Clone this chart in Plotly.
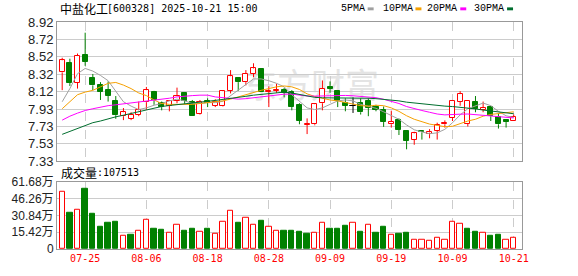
import plotly.graph_objects as go

# ---------------- data ----------------
opens = [8.345, 8.457, 8.227, 8.542, 8.282, 8.197, 8.142, 8.019, 7.845, 7.816,
         7.860, 8.004, 8.123, 7.993, 7.964, 8.019, 8.105, 8.012, 7.871, 8.023,
         7.964, 7.964, 8.134, 8.282, 8.234, 8.327, 8.383, 8.125, 8.134, 8.142,
         8.123, 7.975, 7.748, 7.753, 7.993, 8.179, 8.134, 8.001, 7.964, 8.001,
         8.019, 7.949, 7.919, 7.753, 7.797, 7.671, 7.578, 7.678, 7.641, 7.678,
         7.753, 7.823, 8.012, 7.760, 8.012, 7.919, 7.945, 7.838, 7.800, 7.790]
highs = [8.512, 8.501, 8.560, 8.798, 8.327, 8.234, 8.242, 8.075, 7.938, 7.890,
         8.012, 8.179, 8.134, 8.012, 8.030, 8.171, 8.112, 8.030, 8.030, 8.049,
         8.038, 8.142, 8.371, 8.290, 8.371, 8.449, 8.383, 8.186, 8.216, 8.168,
         8.142, 7.993, 7.820, 7.993, 8.253, 8.242, 8.142, 8.049, 8.060, 8.049,
         8.049, 7.975, 7.956, 7.908, 7.820, 7.686, 7.667, 7.678, 7.697, 7.771,
         7.797, 8.030, 8.131, 8.019, 8.075, 8.012, 7.964, 7.882, 7.800, 7.864]
lows = [8.142, 8.190, 8.160, 8.420, 8.142, 8.030, 8.012, 7.815, 7.800, 7.800,
        7.845, 7.919, 7.975, 7.912, 7.900, 7.993, 7.986, 7.845, 7.864, 7.949,
        7.949, 7.956, 8.105, 8.134, 8.197, 8.290, 8.123, 7.949, 8.112, 8.060,
        7.912, 7.753, 7.641, 7.741, 7.912, 8.112, 7.949, 7.901, 7.882, 7.864,
        7.845, 7.901, 7.723, 7.715, 7.630, 7.467, 7.519, 7.578, 7.593, 7.578,
        7.715, 7.790, 7.964, 7.727, 7.890, 7.890, 7.790, 7.704, 7.715, 7.790]
closes = [8.483, 8.223, 8.531, 8.468, 8.197, 8.123, 8.075, 7.856, 7.890, 7.860,
          7.912, 8.142, 8.030, 7.949, 8.019, 8.075, 8.023, 7.845, 8.012, 8.001,
          8.012, 8.130, 8.301, 8.234, 8.327, 8.390, 8.123, 8.135, 8.145, 8.112,
          7.949, 7.790, 7.750, 7.982, 8.160, 8.160, 8.023, 7.964, 7.964, 7.890,
          7.938, 7.919, 7.778, 7.782, 7.690, 7.567, 7.649, 7.660, 7.660, 7.741,
          7.771, 8.019, 8.097, 8.019, 7.927, 7.938, 7.845, 7.753, 7.778, 7.838]

ma5 = [8.01, 8.16, 8.33, 8.39, 8.36, 8.31, 8.25, 8.13, 8.01, 7.96,
       7.92, 7.94, 7.97, 7.99, 8.02, 8.04, 8.02, 7.99, 7.99, 8.0,
       8.0, 8.015, 8.08, 8.14, 8.21, 8.27, 8.27, 8.25, 8.22, 8.18,
       8.09, 8.02, 7.94, 7.92, 7.94, 7.98, 8.02, 8.03, 8.02, 7.98,
       7.955, 7.935, 7.895, 7.855, 7.81, 7.745, 7.69, 7.665, 7.645, 7.655,
       7.695, 7.77, 7.86, 7.93, 7.965, 7.995, 7.965, 7.9, 7.85, 7.83]
ma10 = [7.93, 8.01, 8.09, 8.12, 8.14, 8.18, 8.22, 8.23, 8.2, 8.16,
        8.11, 8.08, 8.03, 7.99, 7.98, 7.98, 7.98, 7.98, 7.99, 8.0,
        8.01, 8.02, 8.04, 8.065, 8.09, 8.12, 8.14, 8.16, 8.18, 8.19,
        8.18, 8.15, 8.1, 8.07, 8.05, 8.03, 8.02, 8.0, 7.985, 7.965,
        7.96, 7.97, 7.965, 7.94, 7.9, 7.85, 7.81, 7.78, 7.755, 7.74,
        7.725, 7.73, 7.76, 7.79, 7.81, 7.845, 7.865, 7.875, 7.885, 7.895]
ma20 = [7.80, 7.845, 7.88, 7.91, 7.93, 7.95, 7.965, 7.975, 7.985, 7.995,
        8.005, 8.02, 8.03, 8.04, 8.05, 8.065, 8.075, 8.08, 8.085, 8.085,
        8.065, 8.058, 8.048, 8.04, 8.045, 8.055, 8.06, 8.072, 8.084, 8.096,
        8.097, 8.085, 8.075, 8.074, 8.077, 8.079, 8.079, 8.082, 8.078, 8.073,
        8.066, 8.056, 8.038, 8.018, 7.99, 7.955, 7.93, 7.91, 7.89, 7.87,
        7.86, 7.86, 7.868, 7.87, 7.863, 7.855, 7.848, 7.84, 7.83, 7.825]
ma30 = [7.638, 7.671, 7.708, 7.745, 7.771, 7.79, 7.816, 7.838, 7.856, 7.875,
        7.897, 7.919, 7.938, 7.956, 7.967, 7.975, 7.985, 7.995, 8.005, 8.015,
        8.025, 8.035, 8.048, 8.06, 8.072, 8.085, 8.095, 8.105, 8.115, 8.12,
        8.11, 8.095, 8.075, 8.06, 8.055, 8.055, 8.052, 8.052, 8.052, 8.052,
        8.05, 8.045, 8.038, 8.03, 8.02, 8.005, 7.995, 7.988, 7.978, 7.968,
        7.96, 7.955, 7.948, 7.94, 7.928, 7.915, 7.905, 7.893, 7.882, 7.873]

volumes = [521000, 329000, 364000, 556000, 320000, 206000, 241000, 250000, 118000, 127000,
           168000, 267000, 188000, 180000, 151000, 223000, 171000, 188000, 159000, 188000,
           142000, 247000, 355000, 241000, 291000, 221000, 258000, 203000, 168000, 168000,
           168000, 159000, 136000, 151000, 238000, 188000, 188000, 215000, 238000, 162000,
           221000, 153000, 206000, 127000, 136000, 145000, 81000, 81000, 72000, 107000,
           89000, 247000, 230000, 188000, 162000, 151000, 118000, 127000, 81000, 107513]
# volume bar direction (close vs previous close): 1 = up (red), 0 = down (green)
vol_up = [1, 0, 1, 0, 0, 0, 0, 0, 1, 0,
          1, 1, 0, 0, 1, 1, 0, 0, 1, 0,
          1, 1, 1, 0, 1, 1, 0, 1, 1, 0,
          0, 0, 0, 1, 1, 0, 0, 0, 1, 0,
          1, 0, 0, 1, 0, 0, 1, 1, 1, 1,
          1, 1, 1, 0, 0, 1, 0, 0, 1, 1]

tick_idx = [3, 11, 19, 27, 35, 43, 51, 59]
tick_lbl = ["07-25", "08-06", "08-18", "08-28", "09-09", "09-19", "10-09", "10-21"]
price_ticks = [7.33, 7.52875, 7.7275, 7.92625, 8.125, 8.32375, 8.5225, 8.72125, 8.92]
price_lbls = ["7.33", "7.53", "7.73", "7.93", "8.12", "8.32", "8.52", "8.72", "8.92"]
vol_ticks = [0, 154200, 308400, 462600, 616800]
vol_lbls = ["0", "15.42万", "30.84万", "46.26万", "61.68万"]

name = "中盐化工"
stamp = "[600328] 2025-10-21 15:00"
last_vol = "107513"

RED = "#ff0000"
GREEN = "#008000"
MA_COLORS = ["#a0a0a0", "#f5a000", "#ff00ff", "#006e2e"]
MA_NAMES = ["5PMA", "10PMA", "20PMA", "30PMA"]

W, H = 578, 276
L, R, T, B = 55, 56, 22, 21
PW, PH = W - L - R, H - T - B


def px(xp):
    return (xp - L) / PW


def py(yp):
    return (H - B - yp) / PH


n = len(closes)
xs = list(range(n))

fig = go.Figure()

# ---- candle wicks (split so they don't cross hollow bodies) ----
groups = {"up": ([], [], RED), "dn": ([], [], GREEN), "eq": ([], [], "#000000")}
for i in xs:
    o, h, lo, c = opens[i], highs[i], lows[i], closes[i]
    k = "up" if c > o else ("dn" if c < o else "eq")
    gx, gy, _ = groups[k]
    top, bot = max(o, c), min(o, c)
    gx += [i, i, None, i, i, None]
    gy += [top, h, None, lo, bot, None]
for k, (gx, gy, col) in groups.items():
    fig.add_trace(go.Scatter(x=gx, y=gy, mode="lines", line=dict(color=col, width=1),
                             xaxis="x2", yaxis="y", hoverinfo="skip", showlegend=False))

# ---- candle bodies ----
for k, fill, col in [("up", "#ffffff", RED), ("dn", GREEN, GREEN), ("eq", "#000000", "#000000")]:
    bx, bb, bh = [], [], []
    for i in xs:
        o, c = opens[i], closes[i]
        kk = "up" if c > o else ("dn" if c < o else "eq")
        if kk != k:
            continue
        bx.append(i)
        bb.append(min(o, c))
        bh.append(max(abs(c - o), 0.003))
    fig.add_trace(go.Bar(x=bx, y=bh, base=bb, width=0.66,
                         marker=dict(color=fill, line=dict(color=col, width=1)),
                         xaxis="x2", yaxis="y", hoverinfo="skip", showlegend=False))

# ---- moving averages ----
for vals, col in zip([ma5, ma10, ma20, ma30], MA_COLORS):
    fig.add_trace(go.Scatter(x=xs, y=vals, mode="lines", line=dict(color=col, width=1),
                             xaxis="x2", yaxis="y", hoverinfo="skip", showlegend=False))

# ---- volume ----
for up, fill, col in [(1, "#ffffff", RED), (0, GREEN, GREEN)]:
    vx = [i for i in xs if vol_up[i] == up]
    vy = [volumes[i] for i in vx]
    fig.add_trace(go.Bar(x=vx, y=vy, width=0.7,
                         marker=dict(color=fill, line=dict(color=col, width=1)),
                         xaxis="x", yaxis="y2", hoverinfo="skip", showlegend=False))

price_top = 1.0
price_bot = py(165)
vol_top = py(186)

xcommon = dict(range=[-0.68, 60.08], showgrid=True, gridcolor="#cccccc", griddash="dash",
               gridwidth=1, tickvals=tick_idx, showline=True, linecolor="#999999",
               mirror=True, zeroline=False, ticks="", fixedrange=True)
fig.update_layout(
    width=W, height=H, margin=dict(l=L, r=R, t=T, b=B),
    paper_bgcolor="white", plot_bgcolor="white", bargap=0, barmode="overlay",
    showlegend=False,
    xaxis=dict(domain=[0, 1], anchor="y2", ticktext=tick_lbl,
               tickfont=dict(family="DejaVu Sans Mono", size=10, color=RED), **xcommon),
    xaxis2=dict(domain=[0, 1], anchor="y", matches="x", showticklabels=False, **xcommon),
    yaxis=dict(domain=[price_bot, price_top], range=[7.33, 8.92], tickvals=price_ticks,
               ticktext=price_lbls, showgrid=True, gridcolor="#cccccc", zeroline=False,
               showline=True, linecolor="#999999", mirror=True, ticks="", anchor="x2",
               tickfont=dict(family="Liberation Sans, Arial", size=13, color="#222222")),
    yaxis2=dict(domain=[0, vol_top], range=[0, 616800], tickvals=vol_ticks,
                ticktext=vol_lbls, showgrid=True, gridcolor="#cccccc", zeroline=False,
                showline=True, linecolor="#999999", mirror=True, ticks="", anchor="x",
                tickfont=dict(family="Liberation Sans, Arial, Noto Sans CJK SC", size=12,
                              color="#222222")),
)

# watermark (below traces)
fig.add_shape(type="rect", xref="paper", yref="paper", x0=px(230), x1=px(390),
              y0=py(108), y1=py(72), line=dict(width=0), fillcolor="rgba(0,0,0,0)",
              layer="below",
              label=dict(text="东方财富", font=dict(family="Noto Sans CJK SC", size=34,
                                                   color="#e4e4e4")))

ann = []
ann.append(dict(text=name, x=px(56), y=py(8), xanchor="left", yanchor="middle",
                font=dict(family="Noto Sans CJK SC", size=12, color="#000000")))
ann.append(dict(text=stamp, x=px(103), y=py(8), xanchor="left", yanchor="middle",
                font=dict(family="DejaVu Sans Mono", size=10, color="#000000")))
ann.append(dict(text="成交量", x=px(57), y=py(176), xanchor="left", yanchor="middle",
                font=dict(family="Noto Sans CJK SC", size=12, color="#000000")))
ann.append(dict(text=":" + last_vol, x=px(93), y=py(176), xanchor="left", yanchor="middle",
                font=dict(family="DejaVu Sans Mono", size=10, color="#000000")))
leg_x = [338, 380, 425, 472]
for lx, nm, col in zip(leg_x, MA_NAMES, MA_COLORS):
    ann.append(dict(text=nm, x=px(lx), y=py(8), xanchor="left", yanchor="middle",
                    font=dict(family="Liberation Mono", size=10, color="#000000")))
    sq_x = lx + len(nm) * 6 + 5
    fig.add_shape(type="rect", xref="paper", yref="paper", x0=px(sq_x), x1=px(sq_x + 6),
                  y0=py(10), y1=py(7), line=dict(width=0), fillcolor=col)
for a in ann:
    a.update(xref="paper", yref="paper", showarrow=False)
fig.update_layout(annotations=ann)

fig.write_html("out.html")
